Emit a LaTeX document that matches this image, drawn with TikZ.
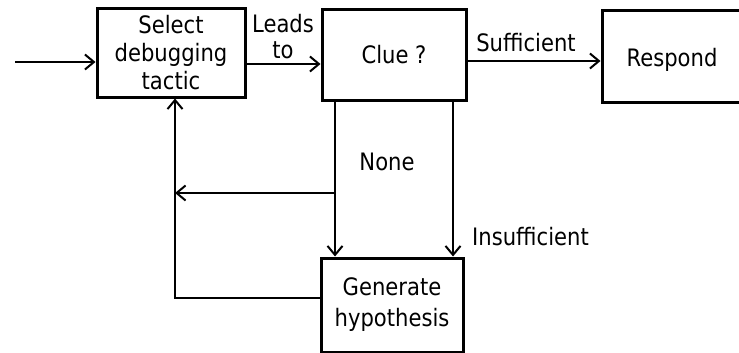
\documentclass[tikz,border=0pt]{standalone}
\usepackage{fontspec}
\setmainfont{DejaVu Sans}[FakeStretch=0.88]
\usetikzlibrary{arrows.meta}
\tikzset{
  stepbox/.style={draw, line width=3pt, inner sep=0pt, align=center},
  flow/.style={line width=2pt, -{Straight Barb[length=9pt,width=15pt,line width=2pt]}},
  lbl/.style={inner sep=0pt, align=center}
}
\begin{document}
\begin{tikzpicture}[x=1pt,y=-1pt]
\clip (0,0) rectangle (739,353);
{\fontsize{24}{28}\selectfont

% Drawing box Select
\node [stepbox, minimum width=148pt, minimum height=88pt] (sel) at (171,53) {Select\\debugging\\tactic};

% Drawing box Clue
\node [stepbox, minimum width=144pt, minimum height=90pt] (clue) at (394,55) {Clue ?};

% Drawing box Respond
\node [stepbox, minimum width=160pt, minimum height=91pt] (resp) at (682,56.5) {};
\node [lbl] (resptext) at (672,60) {Respond};

% Drawing box Generate
\node [stepbox, minimum width=142pt, minimum height=94pt, font=\fontsize{24}{31}\selectfont] (gen) at (392,305) {Generate\\hypothesis};

% Drawing input arrow
\coordinate (in) at (15,62);
\draw [flow] (in) -- (in -| sel.west);

% Drawing arrow Select -> Clue
\draw [flow] (sel.east |- 0,64) -- (clue.west |- 0,64);

% Drawing arrow Clue -> Respond
\draw [flow] (clue.east |- 0,61) -- (resp.west |- 0,61);

% Drawing arrows Clue -> Generate
\draw [flow] (clue.south -| 335,0) -- (gen.north -| 335,0);
\draw [flow] (clue.south -| 453,0) -- (gen.north -| 453,0);

% Drawing branch back to Select
\coordinate (split) at (335,193);
\coordinate (back) at (175,193);
\draw [flow] (split) -- (back);

% Drawing loop Generate -> Select
\draw [flow] (gen.west |- 0,298) -| (sel.south -| 175,0);

% Marking labels
\node [lbl, font=\fontsize{24}{26}\selectfont] (leads) at (283,37) {Leads\\to};
\node [lbl] (suff) at (526,43) {Sufficient};
\node [lbl] (none) at (387,162) {None};
\node [lbl, anchor=west] (insuff) at (472,237) {Insufficient};
}
\end{tikzpicture}
\end{document}
